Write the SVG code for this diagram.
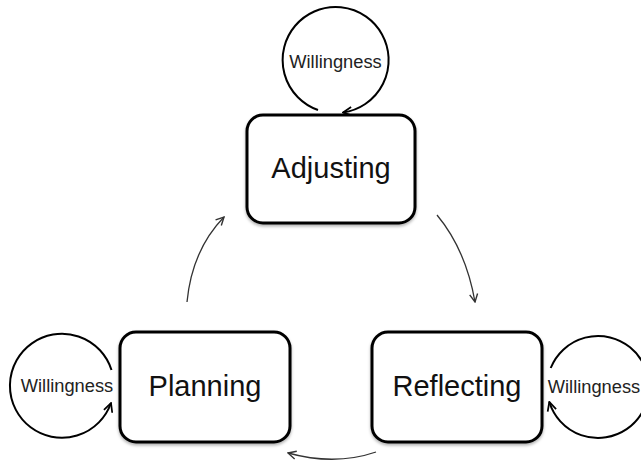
<svg xmlns="http://www.w3.org/2000/svg" width="641" height="461" viewBox="0 0 641 461">
<defs>
<style>
.box{fill:#fff;stroke:#000;stroke-width:3;filter:url(#sh)}
.big{font-family:"Liberation Sans",Arial,sans-serif;font-size:29px;fill:#111;text-anchor:middle}
.sm{font-family:"Liberation Sans",Arial,sans-serif;font-size:18.3px;fill:#222;text-anchor:middle}
.loop{fill:none;stroke:#000;stroke-width:2}
.con{fill:none;stroke:#333;stroke-width:1.3}
</style>
<filter id="sh" x="-10%" y="-10%" width="120%" height="130%">
<feDropShadow dx="0" dy="2" stdDeviation="1.5" flood-color="#000" flood-opacity="0.3"/>
</filter>
<marker id="ah" viewBox="0 0 10 10" refX="9" refY="5" markerWidth="10" markerHeight="10" markerUnits="userSpaceOnUse" orient="auto">
<path d="M1,1 L9,5 L1,9" fill="none" stroke="#333" stroke-width="1.4"/>
</marker>
<marker id="ah2" viewBox="0 0 10 10" refX="9" refY="5" markerWidth="11" markerHeight="11" markerUnits="userSpaceOnUse" orient="auto">
<path d="M1,1 L9,5 L1,9" fill="none" stroke="#000" stroke-width="1.6"/>
</marker>
</defs>
<g id="connectors">
<path class="con" d="M187,302 Q192,250 224,217" marker-end="url(#ah)"/>
<path class="con" d="M437,215 Q466,250 475,302" marker-end="url(#ah)"/>
<path class="con" d="M376,452 Q335,466 288,453" marker-end="url(#ah)"/>
</g>
<g id="adjusting">
<path class="loop" d="M318,110 A53,53 0 1 1 343,112.5" marker-end="url(#ah2)"/>
<text class="sm" x="335.5" y="68">Willingness</text>
<rect class="box" x="247" y="115" width="168" height="108" rx="16"/>
<text class="big" x="331" y="178">Adjusting</text>
</g>
<g id="planning">
<path class="loop" d="M111.5,370 A52,52 0 1 0 111,403" marker-end="url(#ah2)"/>
<text class="sm" x="67" y="392">Willingness</text>
<rect class="box" x="120" y="332" width="170" height="110" rx="16"/>
<text class="big" x="205" y="396">Planning</text>
</g>
<g id="reflecting">
<path class="loop" d="M550.7,368 A51,51 0 1 1 549.3,402" marker-end="url(#ah2)"/>
<text class="sm" x="594" y="393">Willingness</text>
<rect class="box" x="372" y="332" width="170" height="110" rx="16"/>
<text class="big" x="457" y="396">Reflecting</text>
</g>
</svg>
